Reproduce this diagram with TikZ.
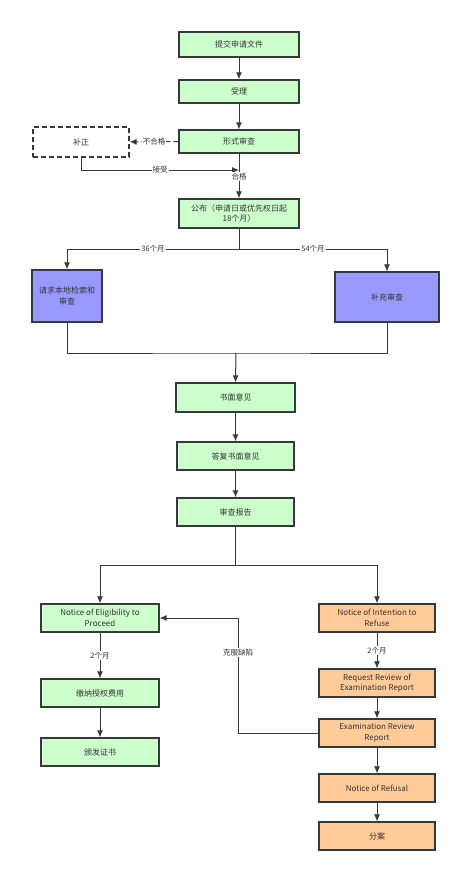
\documentclass[tikz,border=0pt]{standalone}
\usepackage{fontspec}
\setmainfont{Noto Sans CJK SC}
\usetikzlibrary{arrows.meta}

\definecolor{lineC}{HTML}{36393D}
\definecolor{textC}{HTML}{333333}
\definecolor{greenC}{HTML}{CCFFCC}
\definecolor{blueC}{HTML}{9999FF}
\definecolor{orangeC}{HTML}{FFCC99}

\tikzset{
	box/.style={draw=lineC, line width=1.2pt, fill=greenC, text=textC, align=center, inner sep=1pt, font=\fontsize{8}{10.5}\selectfont},
	bluebox/.style={box, fill=blueC},
	orangebox/.style={box, fill=orangeC},
	lbl/.style={fill=white, text=textC, inner sep=1pt, font=\fontsize{7.5}{9}\selectfont},
	flow/.style={draw=lineC, line width=1pt, arrows={-Latex[length=7pt, width=6pt]}}
}

\begin{document}
\begin{tikzpicture}[x=1pt, y=-1pt]
	\useasboundingbox (0, 0) rectangle (461, 872);

	\node [box, minimum width=120, minimum height=25] (submit) at (239, 44.5) {提交申请文件};
	\node [box, minimum width=120, minimum height=23] (accept) at (239, 91.5) {受理};
	\node [box, minimum width=120, minimum height=23] (formal) at (239, 141.5) {形式审查};
	\node [box, fill=white, dash pattern=on 5pt off 3pt, minimum width=96, minimum height=30] (correct) at (81, 142) {补正};
	\node [box, minimum width=120, minimum height=29] (publish) at (239, 213.5) {公布（申请日或优先权日起\\18个月）};

	\node [bluebox, minimum width=70, minimum height=52] (search) at (67, 296) {请求本地检索和\\审查};
	\node [bluebox, minimum width=104, minimum height=50] (supp) at (387, 297) {补充审查};

	\node [box, minimum width=119, minimum height=29] (written) at (235.5, 397.5) {书面意见};
	\node [box, minimum width=117, minimum height=28] (reply) at (235.5, 456) {答复书面意见};
	\node [box, minimum width=117, minimum height=28] (report) at (235.5, 512) {审查报告};

	\node [box, minimum width=118, minimum height=28] (elig) at (100, 618) {Notice of Eligibility to\\Proceed};
	\node [box, minimum width=118, minimum height=28] (fee) at (100, 693) {缴纳授权费用};
	\node [box, minimum width=118, minimum height=28] (cert) at (100, 752) {颁发证书};

	\node [orangebox, minimum width=116, minimum height=28] (intent) at (377, 618) {Notice of Intention to\\Refuse};
	\node [orangebox, minimum width=116, minimum height=28] (reqrev) at (377, 683) {Request Review of\\Examination Report};
	\node [orangebox, minimum width=116, minimum height=28] (examrev) at (377, 733) {Examination Review\\Report};
	\node [orangebox, minimum width=116, minimum height=28] (refusal) at (377, 788) {Notice of Refusal};
	\node [orangebox, minimum width=116, minimum height=28] (divide) at (377, 836) {分案};

	\coordinate (join) at (239, 170);
	\coordinate (split) at (239, 249);
	\coordinate (merge) at (236, 353);
	\coordinate (fork) at (235.5, 565);
	\coordinate (back) at (238, 733);

	\draw [flow] (submit) -- (accept);
	\draw [flow] (accept) -- (formal);
	\draw [flow, dash pattern=on 5pt off 3pt] (formal) -- (correct) node [lbl, midway] {不合格};
	\draw [flow] (correct.south) |- (join) node [lbl, pos=0.75] {接受};
	\draw [flow] (formal) -- (publish) node [lbl, pos=0.52] {合格};

	\draw [flow] (publish.south) -- (split) -| (search.north) node [lbl, pos=0.25] {36个月};
	\draw [flow] (split) -| (supp.north) node [lbl, pos=0.25] {54个月};
	\draw [line width=1pt, draw=lineC] (search.south) |- (merge) -| (supp.south);
	\draw [flow] (merge) -- (written.north);
	\draw [flow] (written) -- (reply);
	\draw [flow] (reply) -- (report);

	\draw [flow] (report.south) -- (fork) -| (elig.north);
	\draw [flow] (fork) -| (intent.north);
	\draw [flow] (elig) -- (fee) node [lbl, midway] {2个月};
	\draw [flow] (fee) -- (cert);
	\draw [flow] (intent) -- (reqrev) node [lbl, midway] {2个月};
	\draw [flow] (reqrev) -- (examrev);
	\draw [flow] (examrev) -- (refusal);
	\draw [flow] (refusal) -- (divide);
	\draw [flow] (examrev.west) -- (back) |- (elig.east) node [lbl, pos=0.35] {克服缺陷};
\end{tikzpicture}
\end{document}
